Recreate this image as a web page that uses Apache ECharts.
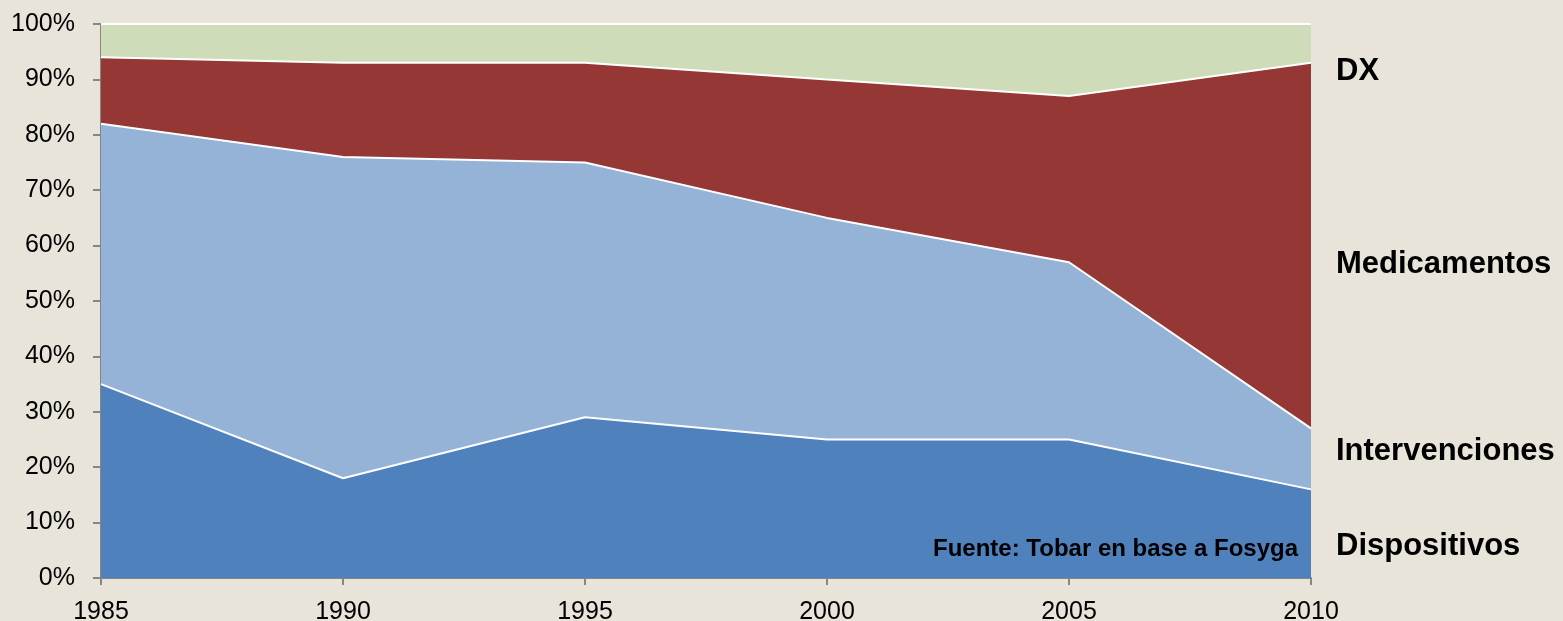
<!DOCTYPE html>
<html>
<head>
<meta charset="utf-8">
<style>
  html, body { margin: 0; padding: 0; background: #E8E4D9; }
  #chart { width: 1563px; height: 621px; }
</style>
<script src="https://cdn.jsdelivr.net/npm/echarts@6/dist/echarts.min.js"></script>
</head>
<body>
<div id="chart"></div>
<script>
// años
const years = ['1985', '1990', '1995', '2000', '2005', '2010']
// participación (%) de cada componente, apilada
const dispositivos = [35, 18, 29, 25, 25, 16]
const intervenciones = [47, 58, 46, 40, 32, 11]
const medicamentos = [12, 17, 18, 25, 30, 66]
const dx = [6, 7, 7, 10, 13, 7]
const yTicks = [0, 10, 20, 30, 40, 50, 60, 70, 80, 90, 100]

const chart = echarts.init(document.getElementById('chart'))

function areaSerie (name, data, color) {
  return {
    name: name,
    type: 'line',
    stack: 'total',
    data: data,
    symbol: 'none',
    lineStyle: { color: '#fff', width: 2 },
    areaStyle: { color: color, opacity: 1 },
    itemStyle: { color: color }
  }
}

const font = 'Liberation Sans, Arial'
const labelStyle = { fontFamily: font, fontWeight: 'bold', fontSize: 31, fill: '#000' }

const option = {
  backgroundColor: '#E8E4D9',
  animation: false,
  grid: { left: 101, right: 252, top: 24, bottom: 43, containLabel: false, outerBoundsMode: 'none' },
  xAxis: {
    type: 'category',
    boundaryGap: false,
    data: years,
    axisLine: { lineStyle: { color: '#868686', width: 2 } },
    axisTick: { show: true, length: 7, lineStyle: { color: '#868686', width: 2 } },
    axisLabel: { color: '#000', fontSize: 25, fontFamily: font, margin: 22 },
    splitLine: { show: false }
  },
  yAxis: {
    type: 'value',
    min: yTicks[0],
    max: yTicks[yTicks.length - 1],
    interval: 10,
    axisLine: { show: true, lineStyle: { color: '#868686', width: 2 } },
    axisTick: { show: true, length: 8, lineStyle: { color: '#868686', width: 2 } },
    axisLabel: {
      color: '#000',
      fontSize: 25,
      fontFamily: font,
      margin: 26,
      formatter: v => v + '%'
    },
    splitLine: { show: false }
  },
  series: [
    areaSerie('Dispositivos', dispositivos, '#4F81BD'),
    areaSerie('Intervenciones', intervenciones, '#95B3D7'),
    areaSerie('Medicamentos', medicamentos, '#953735'),
    areaSerie('DX', dx, '#CFDCB9')
  ],
  graphic: [
    { type: 'text', z: 100, left: 1336, top: 56, style: Object.assign({ text: 'DX' }, labelStyle) },
    { type: 'text', z: 100, left: 1336, top: 249, style: Object.assign({ text: 'Medicamentos' }, labelStyle) },
    { type: 'text', z: 100, left: 1336, top: 436, style: Object.assign({ text: 'Intervenciones' }, labelStyle) },
    { type: 'text', z: 100, left: 1336, top: 531, style: Object.assign({ text: 'Dispositivos' }, labelStyle) },
    {
      type: 'text',
      z: 100,
      right: 265,
      top: 537,
      style: { text: 'Fuente: Tobar en base a Fosyga', fontFamily: font, fontWeight: 'bold', fontSize: 24, fill: '#000' }
    }
  ]
}

chart.setOption(option)
</script>
</body>
</html>
